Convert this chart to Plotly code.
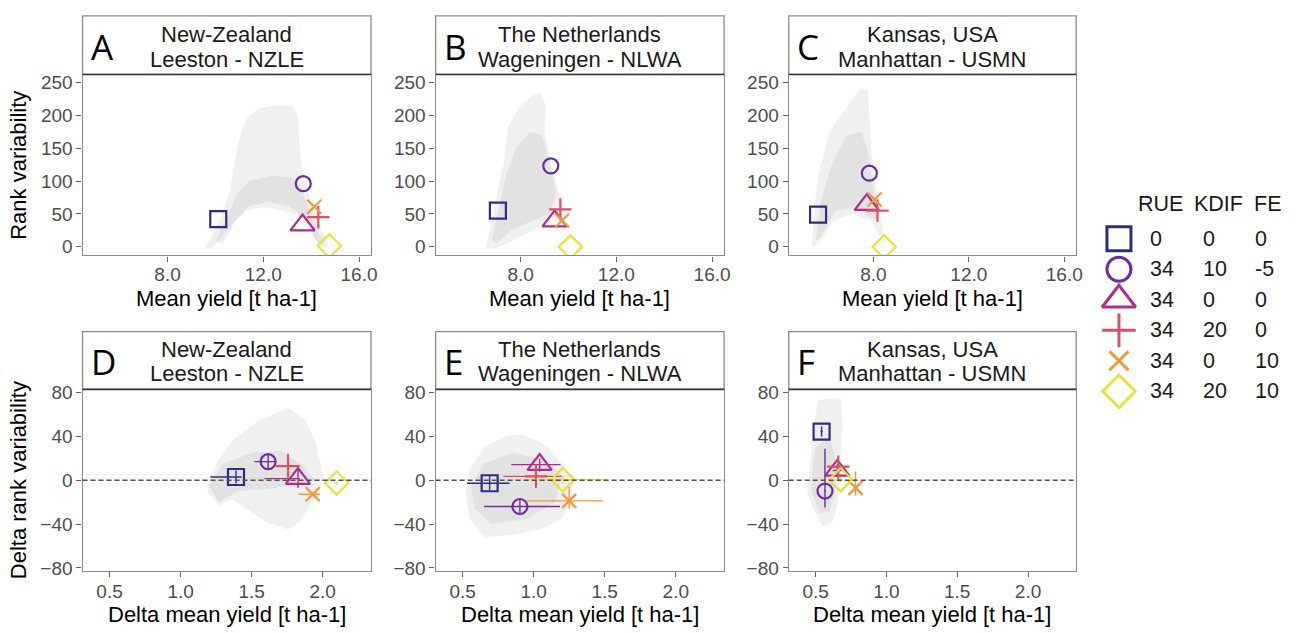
import plotly.graph_objects as go

W, H = 1298, 633

# ---------------- data ----------------
treat_rue = ["0", "34", "34", "34", "34", "34"]
treat_kdif = ["0", "10", "0", "20", "0", "20"]
treat_fe = ["0", "-5", "0", "0", "10", "10"]

site_line1 = ["New-Zealand", "The Netherlands", "Kansas, USA"]
site_line2 = ["Leeston - NZLE", "Wageningen - NLWA", "Manhattan - USMN"]
top_letters = ["A", "B", "C"]
bottom_letters = ["D", "E", "F"]

top_xticks = [8.0, 12.0, 16.0]
top_xticklabels = ["8.0", "12.0", "16.0"]
top_yticks = [0, 50, 100, 150, 200, 250]
bottom_xticks = [0.5, 1.0, 1.5, 2.0]
bottom_xticklabels = ["0.5", "1.0", "1.5", "2.0"]
bottom_yticks = [-80, -40, 0, 40, 80]

# Top row: mean yield vs rank variability (treatment order as legend)
nzle_mean_yield = [10.12, 13.67, 13.64, 14.30, 14.13, 14.76]
nzle_rank_var = [42, 96, 33, 45, 61, 1.5]
nlwa_mean_yield = [7.05, 9.26, 9.42, 9.66, 9.73, 10.08]
nlwa_rank_var = [55, 123, 39, 57, 40, 0]
usmn_mean_yield = [5.68, 7.83, 7.72, 8.17, 8.05, 8.45]
usmn_rank_var = [49, 112, 64, 55, 72, 0]

# Bottom row: delta mean yield vs delta rank variability, with ranges
nzle_dyield = [1.39, 1.616, 1.826, 1.756, 1.93, 2.098]
nzle_dyield_lo = [1.21, 1.52, 1.59, 1.66, 1.83, 2.08]
nzle_dyield_hi = [1.43, 1.67, 1.84, 1.84, 1.98, 2.11]
nzle_drank = [3, 17, 1.5, 13, -12.8, -2.4]
nzle_drank_lo = [-3, 11, -7, 2, -14, -4]
nzle_drank_hi = [9, 23, 10, 24.5, -11, -1]

nlwa_dyield = [0.69, 0.903, 1.042, 1.016, 1.25, 1.205]
nlwa_dyield_lo = [0.53, 0.651, 0.842, 0.786, 0.947, 0.94]
nlwa_dyield_hi = [0.83, 1.186, 1.19, 1.198, 1.49, 1.52]
nlwa_drank = [-2.7, -23.9, 14.3, 3.6, -18.8, 0.6]
nlwa_drank_lo = [-9, -30, 8, -7, -26, -3]
nlwa_drank_hi = [4, -18, 20, 12.5, -3, 4]

usmn_dyield = [0.542, 0.566, 0.653, 0.66, 0.782, 0.676]
usmn_dyield_lo = [0.535, 0.56, 0.62, 0.63, 0.77, 0.665]
usmn_dyield_hi = [0.55, 0.572, 0.69, 0.70, 0.795, 0.69]
usmn_drank = [44.5, -9.8, 9, 12.5, -6.9, 0.6]
usmn_drank_lo = [40, -24.8, 3, 0, -14, -2]
usmn_drank_hi = [49, 28.9, 15, 22, 8, 3]

# Background cloud outlines (all simulated combinations)
nzle_cloud_x = [9.55, 9.9, 10.3, 10.6, 10.8, 11.0, 11.3, 11.8, 12.5, 13.2, 13.45, 13.5, 13.6, 13.9, 14.3, 14.75, 14.4, 13.9, 13.4, 12.8, 12.0, 11.3, 10.7, 10.2, 9.8]
nzle_cloud_y = [-3, 20, 50, 85, 130, 165, 195, 210, 215, 215, 200, 160, 120, 80, 40, -3, 0, 25, 50, 55, 60, 55, 35, 12, -3]
nzle_core_x = [10.0, 10.5, 10.9, 11.4, 12.3, 13.2, 13.6, 14.0, 14.5, 14.3, 13.8, 13.1, 12.2, 11.4, 10.8, 10.3]
nzle_core_y = [8, 45, 80, 100, 108, 105, 85, 50, 5, 5, 40, 62, 68, 62, 38, 5]

nlwa_cloud_x = [6.55, 6.8, 7.1, 7.35, 7.45, 7.9, 8.4, 8.85, 9.05, 9.0, 9.2, 9.5, 9.75, 9.3, 8.5, 7.6, 6.9]
nlwa_cloud_y = [-3, 40, 95, 140, 180, 210, 228, 235, 215, 175, 140, 95, 60, 40, 25, 8, -3]
nlwa_core_x = [6.8, 7.1, 7.4, 7.8, 8.4, 8.9, 9.2, 9.5, 9.2, 8.5, 7.6, 7.0]
nlwa_core_y = [10, 60, 110, 150, 175, 170, 130, 80, 50, 40, 25, 5]

usmn_cloud_x = [5.42, 5.52, 5.72, 6.17, 6.92, 7.47, 7.77, 7.84, 7.92, 8.12, 8.32, 8.52, 8.32, 7.92, 7.12, 6.32, 5.72]
usmn_cloud_y = [-2, 60, 115, 175, 215, 242, 236, 190, 140, 92, 42, 2, 10, 40, 50, 40, 5]
usmn_core_x = [5.6, 5.8, 6.3, 6.9, 7.5, 7.8, 8.0, 8.2, 7.9, 7.2, 6.4, 5.8]
usmn_core_y = [10, 70, 130, 170, 175, 140, 90, 40, 45, 60, 55, 15]

nzle_dcloud_x = [1.19, 1.19, 1.25, 1.36, 1.55, 1.76, 1.88, 1.95, 2.01, 1.95, 1.84, 1.76, 1.6, 1.5, 1.36, 1.27]
nzle_dcloud_y = [-11, -2, 15, 36, 55, 66, 55, 35, 1, -15, -38, -45, -38, -29, -17, -23]
nzle_dcore_x = [1.2, 1.3, 1.5, 1.7, 1.85, 1.95, 1.8, 1.6, 1.4, 1.27]
nzle_dcore_y = [-5, 15, 25, 27, 15, 0, -5, -8, -10, -20]

nlwa_dcloud_x = [0.52, 0.55, 0.65, 0.8, 0.91, 1.05, 1.12, 1.22, 1.28, 1.25, 1.2, 1.05, 0.84, 0.65, 0.55]
nlwa_dcloud_y = [-11, 10, 30, 40, 42, 35, 27, 12, 0, -20, -35, -45, -50, -52, -35]
nlwa_dcore_x = [0.56, 0.65, 0.85, 1.05, 1.2, 1.15, 0.95, 0.7, 0.58]
nlwa_dcore_y = [-5, 15, 25, 20, 5, -20, -35, -40, -25]

usmn_dcloud_x = [0.52, 0.62, 0.68, 0.69, 0.67, 0.66, 0.62, 0.55, 0.48, 0.44, 0.46, 0.48, 0.5]
usmn_dcloud_y = [73, 75, 74, 50, 10, -20, -38, -42, -25, -11, 15, 36, 60]
usmn_dcore_x = [0.5, 0.6, 0.64, 0.64, 0.6, 0.53, 0.47, 0.48]
usmn_dcore_y = [30, 40, 20, -10, -28, -30, -10, 15]

# ---------------- styles ----------------
symbols = ["square-open", "circle-open", "triangle-up-open", "cross-thin-open", "x-thin-open", "diamond-open"]
colors = ["#2F2C85", "#6C2DA0", "#AE2E8F", "#DD5060", "#F6963A", "#E8E23A"]
sizes = [16, 15, 21, 16, 14, 18]
legend_sizes = [24, 24, 29, 24, 19, 25]

FONT = "Liberation Sans, Arial, sans-serif"
TICKC = "#4D4D4D"
BORDER = "#8A8A8A"
TICK_SIZE = 19
TITLE_SIZE = 22
STRIP_SIZE = 22

cols_px = [(83, 373), (438, 728), (793, 1082)]
plot_rows_px = [(69, 254), (391, 577)]
strip_rows_px = [(9, 69), (332, 391)]


def px(p):
    return p / W


def py(p):
    return 1 - p / H


fig = go.Figure()
layout = dict(
    width=W, height=H, margin=dict(l=0, r=0, t=0, b=0),
    paper_bgcolor="white", plot_bgcolor="white", showlegend=False,
    font=dict(family=FONT, color="black"),
)
shapes = []
annotations = []

top_sets = [
    (nzle_mean_yield, nzle_rank_var, nzle_cloud_x, nzle_cloud_y, nzle_core_x, nzle_core_y),
    (nlwa_mean_yield, nlwa_rank_var, nlwa_cloud_x, nlwa_cloud_y, nlwa_core_x, nlwa_core_y),
    (usmn_mean_yield, usmn_rank_var, usmn_cloud_x, usmn_cloud_y, usmn_core_x, usmn_core_y),
]
bottom_sets = [
    (nzle_dyield, nzle_dyield_lo, nzle_dyield_hi, nzle_drank, nzle_drank_lo, nzle_drank_hi,
     nzle_dcloud_x, nzle_dcloud_y, nzle_dcore_x, nzle_dcore_y),
    (nlwa_dyield, nlwa_dyield_lo, nlwa_dyield_hi, nlwa_drank, nlwa_drank_lo, nlwa_drank_hi,
     nlwa_dcloud_x, nlwa_dcloud_y, nlwa_dcore_x, nlwa_dcore_y),
    (usmn_dyield, usmn_dyield_lo, usmn_dyield_hi, usmn_drank, usmn_drank_lo, usmn_drank_hi,
     usmn_dcloud_x, usmn_dcloud_y, usmn_dcore_x, usmn_dcore_y),
]

for r in range(2):
    for c in range(3):
        n = r * 3 + c + 1
        xa = "x" if n == 1 else f"x{n}"
        ya = "y" if n == 1 else f"y{n}"
        xkey = "xaxis" if n == 1 else f"xaxis{n}"
        ykey = "yaxis" if n == 1 else f"yaxis{n}"
        l, rr = cols_px[c]
        t, b = plot_rows_px[r]
        common = dict(showgrid=False, zeroline=False, showline=True, linecolor=BORDER,
                      linewidth=1.3, mirror=True, ticks="outside", ticklen=5,
                      tickcolor="#666666", tickwidth=1.2,
                      tickfont=dict(family=FONT, size=TICK_SIZE, color=TICKC))
        if r == 0:
            layout[xkey] = dict(domain=[px(l), px(rr)], range=[4.45, 16.5], anchor=ya,
                                tickvals=top_xticks, ticktext=top_xticklabels,
                                ticklabelstandoff=-3, **common)
            layout[ykey] = dict(domain=[py(b), py(t)], range=[-13, 262], anchor=xa,
                                tickvals=top_yticks, **common)
            yv, rv, cx, cy, kx, ky = top_sets[c]
        else:
            layout[xkey] = dict(domain=[px(l), px(rr)], range=[0.31, 2.34], anchor=ya,
                                tickvals=bottom_xticks, ticktext=bottom_xticklabels,
                                ticklabelstandoff=-2, **common)
            layout[ykey] = dict(domain=[py(b), py(t)], range=[-83, 83], anchor=xa,
                                tickvals=bottom_yticks, **common)
            (yv, ylo, yhi, rv, rlo, rhi, cx, cy, kx, ky) = bottom_sets[c]
            shapes.append(dict(type="line", xref=f"{xa} domain", yref=ya, x0=0, x1=1, y0=0, y1=0,
                               line=dict(color="#505050", width=1.6, dash="5px,3px"),
                               layer="above"))

        # background clouds
        fig.add_trace(go.Scatter(x=cx, y=cy, xaxis=xa, yaxis=ya, mode="lines", fill="toself",
                                 fillcolor="rgba(200,200,200,0.28)", line=dict(width=0),
                                 hoverinfo="skip"))
        fig.add_trace(go.Scatter(x=kx, y=ky, xaxis=xa, yaxis=ya, mode="lines", fill="toself",
                                 fillcolor="rgba(185,185,185,0.26)", line=dict(width=0),
                                 hoverinfo="skip"))
        # treatments
        for i in range(6):
            kw = {}
            if r == 1:
                kw["error_x"] = dict(type="data", symmetric=False, array=[yhi[i] - yv[i]],
                                     arrayminus=[yv[i] - ylo[i]], color=colors[i],
                                     thickness=1.4, width=0)
                kw["error_y"] = dict(type="data", symmetric=False, array=[rhi[i] - rv[i]],
                                     arrayminus=[rv[i] - rlo[i]], color=colors[i],
                                     thickness=1.4, width=0)
            fig.add_trace(go.Scatter(
                x=[yv[i]], y=[rv[i]], xaxis=xa, yaxis=ya, mode="markers",
                marker=dict(symbol=symbols[i], size=sizes[i], color=colors[i],
                            line=dict(color=colors[i], width=2.2)),
                name=f"{treat_rue[i]} {treat_kdif[i]} {treat_fe[i]}", **kw))

        # strip
        st, sb = strip_rows_px[r]
        shapes.append(dict(type="rect", xref="paper", yref="paper", x0=px(l), x1=px(rr),
                           y0=py(sb), y1=py(st), fillcolor="white",
                           line=dict(color=BORDER, width=1.3), layer="above"))
        shapes.append(dict(type="line", xref="paper", yref="paper", x0=px(l), x1=px(rr),
                           y0=py(sb), y1=py(sb), line=dict(color="#333333", width=1.6),
                           layer="above"))
        l1y = st + (19 if r == 0 else 18)
        l2y = st + (45 if r == 0 else 43)
        xc = (l + rr) / 2
        annotations.append(dict(text=site_line1[c], x=px(xc), y=py(l1y), xref="paper", yref="paper",
                                showarrow=False, xanchor="center", yanchor="middle",
                                font=dict(family=FONT, size=STRIP_SIZE, color="#1A1A1A")))
        annotations.append(dict(text=site_line2[c], x=px(xc), y=py(l2y), xref="paper", yref="paper",
                                showarrow=False, xanchor="center", yanchor="middle",
                                font=dict(family=FONT, size=STRIP_SIZE, color="#1A1A1A")))
        letter = top_letters[c] if r == 0 else bottom_letters[c]
        annotations.append(dict(text=letter, x=px(l + 6), y=py((st + sb) / 2 + 1), xref="paper",
                                yref="paper", showarrow=False, xanchor="left", yanchor="middle",
                                font=dict(family="Open Sans, sans-serif", size=35, color="black")))
        # x-axis title
        xt = "Mean yield [t ha-1]" if r == 0 else "Delta mean yield [t ha-1]"
        annotations.append(dict(text=xt, x=px(xc), y=py(298.5 if r == 0 else 621), xref="paper",
                                yref="paper", showarrow=False, xanchor="center", yanchor="middle",
                                font=dict(family=FONT, size=TITLE_SIZE, color="black")))

# y-axis titles
annotations.append(dict(text="Rank variability", x=px(19), y=py(161.5), xref="paper", yref="paper",
                        showarrow=False, textangle=-90, xanchor="center", yanchor="middle",
                        font=dict(family=FONT, size=TITLE_SIZE, color="black")))
annotations.append(dict(text="Delta rank variability", x=px(18), y=py(484), xref="paper",
                        yref="paper", showarrow=False, textangle=-90, xanchor="center",
                        yanchor="middle", font=dict(family=FONT, size=TITLE_SIZE, color="black")))

# ---------------- custom legend ----------------
row0, rowstep = 237, 31.2
ldom_top, ldom_bot = 180, 420
layout["xaxis7"] = dict(domain=[px(1100), 1.0], range=[-25, 173], visible=False,
                        anchor="y7", fixedrange=True)
layout["yaxis7"] = dict(domain=[py(ldom_bot), py(ldom_top)],
                        range=[(ldom_bot - row0) / rowstep, (ldom_top - row0) / rowstep],
                        visible=False, anchor="x7", fixedrange=True)
rows = list(range(6))
for i in rows:
    fig.add_trace(go.Scatter(x=[0], y=[i], xaxis="x7", yaxis="y7", mode="markers",
                             marker=dict(symbol=symbols[i], size=legend_sizes[i], color=colors[i],
                                         line=dict(color=colors[i], width=3)),
                             hoverinfo="skip"))
    for txt, xl in ((treat_rue[i], 1154), (treat_kdif[i], 1208), (treat_fe[i], 1260)):
        annotations.append(dict(text=txt, x=px(xl), y=i, xref="paper", yref="y7",
                                showarrow=False, xanchor="left", yanchor="middle",
                                font=dict(family=FONT, size=21.5, color="#1A1A1A")))
hdr_y = (201 - row0) / rowstep
for txt, xl in (("RUE", 1142), ("KDIF", 1198), ("FE", 1259)):
    annotations.append(dict(text=txt, x=px(xl), y=hdr_y, xref="paper", yref="y7",
                            showarrow=False, xanchor="left", yanchor="middle",
                            font=dict(family=FONT, size=21.5, color="#1A1A1A")))

layout["shapes"] = shapes
layout["annotations"] = annotations
fig.update_layout(**layout)
fig.write_html("out.html")
